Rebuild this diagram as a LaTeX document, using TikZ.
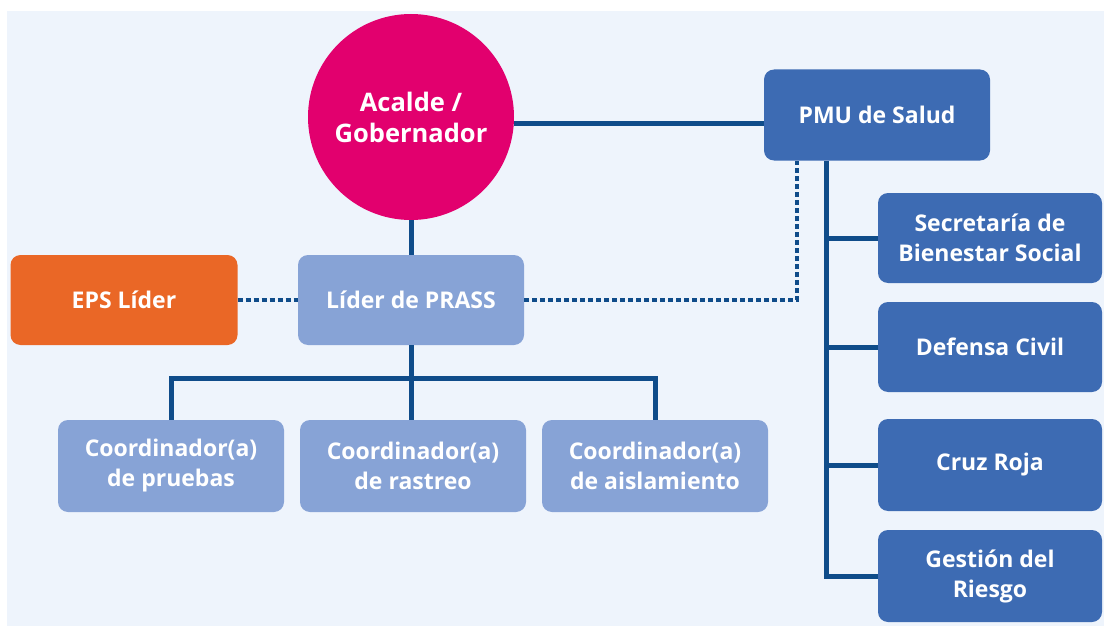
\documentclass[tikz,border=0pt]{standalone}
\usepackage{fontspec}
\setmainfont{Open Sans}
\definecolor{bgc}{HTML}{EEF4FC}
\definecolor{mag}{HTML}{E2006E}
\definecolor{midb}{HTML}{3D6BB3}
\definecolor{lightb}{HTML}{87A3D6}
\definecolor{orng}{HTML}{EA6726}
\definecolor{navy}{HTML}{0F4C8A}
\tikzset{
  box/.style={rounded corners=10pt, minimum width=226pt, minimum height=91pt, inner sep=2pt,
    align=center, text=white, font=\fontsize{23}{30}\selectfont\bfseries},
  darkbox/.style={box, fill=midb},
  lightbox/.style={box, fill=lightb},
  orangebox/.style={box, fill=orng},
  conn/.style={draw=navy, line width=5pt},
  dotconn/.style={draw=navy, line width=4.5pt, dash pattern=on 5pt off 3pt},
}
\begin{document}
\begin{tikzpicture}[x=1pt,y=-1pt]
\useasboundingbox (0,0) rectangle (1104,626);
\fill[white] (0,0) rectangle (1104,626);
\fill[bgc] (7,11) rectangle (1104,626);
% nodes
\node[circle, fill=mag, minimum size=206pt, inner sep=0pt, align=center, text=white,
      font=\fontsize{25.5}{31}\selectfont\bfseries] (circ) at (411,117) {Acalde /\\Gobernador};
\node[darkbox] (pmu) at (877,115) {PMU de Salud};
\node[darkbox, minimum width=224pt, minimum height=90pt] (sec) at (990,238) {Secretaría de\\Bienestar Social};
\node[darkbox, minimum width=224pt, minimum height=90pt] (def) at (990,347) {Defensa Civil};
\node[darkbox, minimum width=224pt, minimum height=92pt] (cruz) at (990,465) {Cruz Roja};
\node[darkbox, minimum width=224pt, minimum height=92pt] (gest) at (990,576) {Gestión del\\Riesgo};
\node[orangebox, minimum width=227pt, minimum height=90pt] (eps) at (124,300) {EPS Líder};
\node[lightbox, minimum height=90pt] (prass) at (411,300) {Líder de PRASS};
\node[lightbox, minimum height=92pt] (c1) at (171,466) {Coordinador(a)\\de pruebas};
\node[lightbox, minimum height=92pt] (c2) at (413,466) {Coordinador(a)\\de rastreo};
\node[lightbox, minimum height=92pt] (c3) at (655,466) {Coordinador(a)\\de aislamiento};
% coordinates
\coordinate (bus) at (411,378);
\coordinate (dt) at (797,300);
\coordinate (tr) at (826,0);
% connectors
\draw[conn] ([yshift=-6pt]circ.east) -- ([yshift=-8pt]pmu.west);
\draw[conn] (circ.south) -- (prass.north);
\draw[dotconn] (eps.east) -- (prass.west);
\draw[dotconn] (prass.east) -- (dt) -- (dt |- pmu.south);
\draw[conn] (prass.south) -- (bus);
\draw[conn] (c1.north) |- (bus) -| (c3.north);
\draw[conn] (bus) -- (bus |- c2.north);
\draw[conn] (tr |- pmu.south) -- (tr |- gest.west) -- (gest.west);
\draw[conn] (tr |- sec.west) -- (sec.west);
\draw[conn] (tr |- def.west) -- (def.west);
\draw[conn] (tr |- cruz.west) -- (cruz.west);
\end{tikzpicture}
\end{document}
